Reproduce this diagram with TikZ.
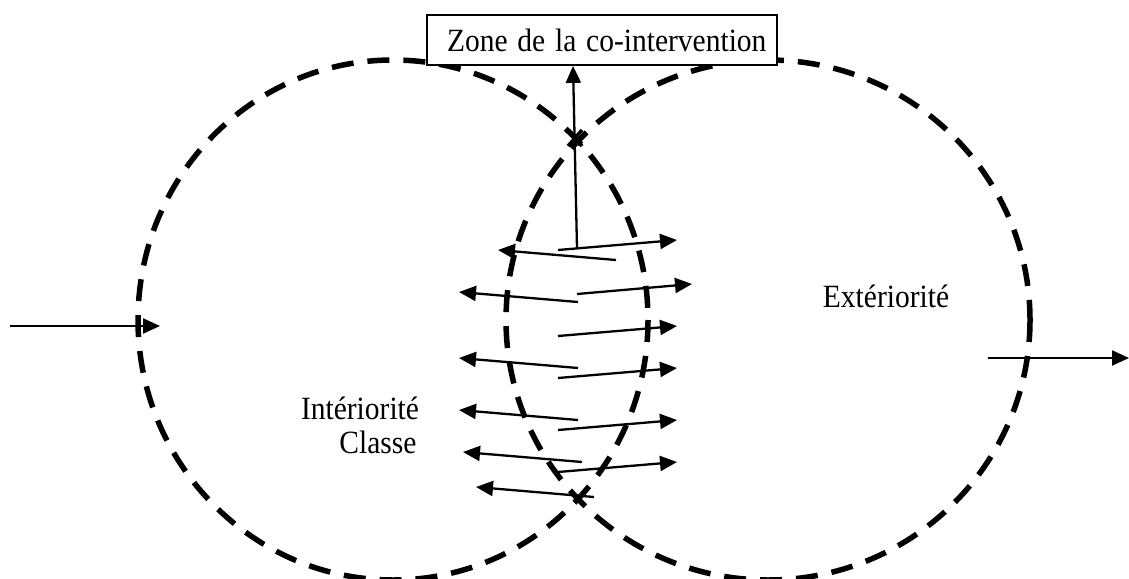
\documentclass[tikz,border=0pt]{standalone}
\usepackage{fontspec}
\setmainfont{Liberation Serif}
\usetikzlibrary{arrows.meta}

\begin{document}
\begin{tikzpicture}[x=1pt, y=-1pt,
    zone/.style={dash pattern=on 22pt off 14pt, line width=5.5pt},
    fleche/.style={line width=2.3pt, -{Triangle[length=17pt,width=15pt]}},
    lbl/.style={font=\fontsize{29.5}{34}\selectfont, inner sep=0pt}]
  \useasboundingbox (0,0) rectangle (1129,578);
  % the two domains
  \draw[zone] (393,320) ellipse (255 and 260);
  \draw[zone] (768,320) ellipse (262 and 260);
  % label box on top
  \node[draw, fill=white, line width=1.8pt, minimum height=50pt,
        lbl, inner xsep=20pt, text width=310pt, align=left] (zone) at (602,40)
        {\scalebox{1}[1.1]{Zone de la co-intervention}};
  \draw[fleche] (577,248) -- (zone.south -| 573,0);
  % cross at the upper meeting point
  \draw[line width=3.5pt] (568,130) -- (582,146) (582,130) -- (568,146);
  % exchanges inside the overlap
  \foreach \xa/\ya/\xb/\yb in {558/250/677/240, 577/294/692/284, 558/336/677/326,
                               558/378/677/368, 558/430/677/420, 558/472/677/462}
    \draw[fleche] (\xa,\ya) -- (\xb,\yb);
  \foreach \xa/\ya/\xb/\yb in {616/260/498/250, 578/302/459/292, 578/368/459/358,
                               578/420/459/410, 582/462/463/452, 594/497/476/487}
    \draw[fleche] (\xa,\ya) -- (\xb,\yb);
  % in and out
  \draw[fleche] (10,326) -- (160,326);
  \draw[fleche] (988,358) -- (1129,358);
  % texts
  \node[lbl] (ext) at (886,296) {\scalebox{1}[1.1]{Extériorité}};
  \node[lbl] (int) at (360,408) {\scalebox{1}[1.1]{Intériorité}};
  \node[lbl] (cla) at (378,442) {\scalebox{1}[1.1]{Classe}};
\end{tikzpicture}
\end{document}
